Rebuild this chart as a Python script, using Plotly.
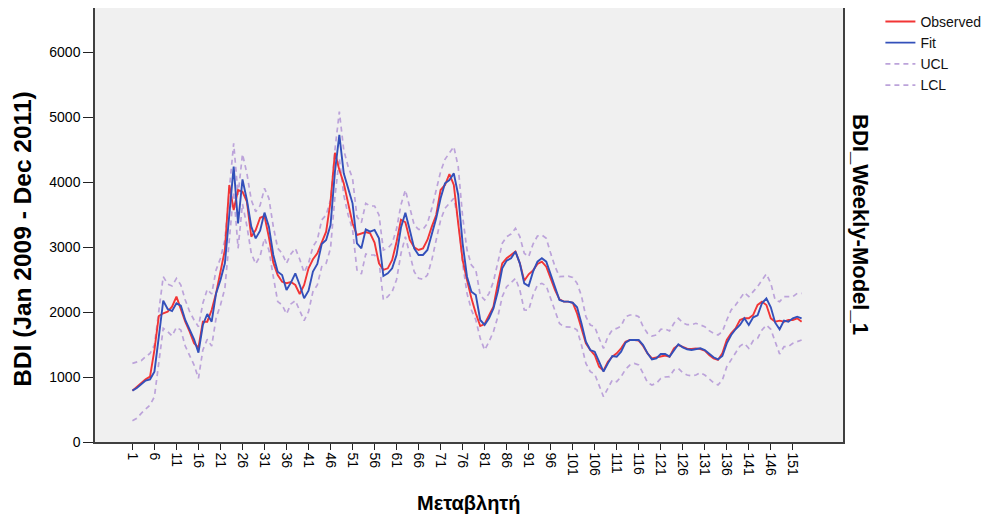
import plotly.graph_objects as go

weeks = list(range(1, 154))
tick_weeks = list(range(1, 152, 5))
y_ticks = [0, 1000, 2000, 3000, 4000, 5000, 6000]

observed = [
    790, 851, 903, 964, 1005, 1416, 1939, 1980, 2005, 2082,
    2236, 2031, 1851, 1698, 1518, 1450, 1851, 1851, 2031, 2287,
    2595, 2954, 3954, 3569, 3877, 3851, 3697, 3159, 3262, 3450,
    3477, 3150, 2759, 2570, 2467, 2442, 2462, 2416, 2277, 2416,
    2672, 2811, 2903, 3067, 3236, 3700, 4450, 4185, 3980, 3672,
    3365, 3185, 3211, 3231, 3211, 3067, 2749, 2647, 2672, 2800,
    3080, 3420, 3380, 3108, 2995, 2954, 2979, 3108, 3313, 3492,
    3877, 3954, 4123, 3954, 3364, 2800, 2492, 2210, 1979, 1784,
    1815, 1954, 2082, 2441, 2749, 2826, 2877, 2930, 2749, 2480,
    2580, 2640, 2740, 2774, 2697, 2518, 2338, 2195, 2159, 2159,
    2143, 1979, 1748, 1518, 1415, 1338, 1159, 1097, 1236, 1312,
    1364, 1441, 1543, 1569, 1569, 1559, 1477, 1364, 1287, 1302,
    1323, 1330, 1313, 1441, 1492, 1467, 1436, 1431, 1441, 1431,
    1405, 1339, 1287, 1262, 1364, 1569, 1672, 1749, 1877, 1903,
    1903, 1954, 2108, 2159, 2108, 1903, 1851, 1867, 1851, 1877,
    1877, 1903, 1851,
]

fit = [
    790, 831, 887, 944, 964, 1082, 1621, 2174, 2046, 2015,
    2134, 2098, 1877, 1723, 1580, 1375, 1800, 1969, 1851, 2287,
    2492, 2749, 3544, 4236, 3364, 4041, 3723, 3313, 3133, 3250,
    3529, 3313, 2877, 2621, 2570, 2339, 2452, 2595, 2416, 2211,
    2329, 2621, 2739, 3047, 3108, 3339, 4159, 4724, 4134, 3903,
    3672, 3057, 2980, 3272, 3236, 3262, 3134, 2554, 2595, 2672,
    2880, 3300, 3528, 3261, 2979, 2877, 2877, 2954, 3184, 3441,
    3749, 3980, 4031, 4133, 3800, 3056, 2543, 2313, 2261, 1877,
    1800, 1903, 2056, 2313, 2672, 2790, 2826, 2930, 2749, 2441,
    2400, 2620, 2774, 2826, 2774, 2569, 2364, 2185, 2159, 2159,
    2143, 2072, 1825, 1543, 1415, 1389, 1236, 1082, 1210, 1323,
    1312, 1389, 1528, 1569, 1569, 1569, 1492, 1364, 1272, 1287,
    1354, 1354, 1313, 1415, 1503, 1457, 1426, 1415, 1426, 1441,
    1415, 1354, 1303, 1272, 1323, 1518, 1646, 1734, 1800, 1903,
    1800, 1918, 1949, 2134, 2210, 2072, 1836, 1734, 1867, 1851,
    1903, 1928, 1903,
]

ucl = [
    1210, 1236, 1251, 1313, 1364, 1492, 2031, 2544, 2431, 2400,
    2518, 2415, 2185, 2005, 1877, 1774, 2134, 2349, 2277, 2646,
    2826, 3108, 3877, 4595, 3800, 4431, 4133, 3723, 3544, 3640,
    3903, 3749, 3313, 2980, 2903, 2749, 2893, 2980, 2811, 2606,
    2749, 3006, 3108, 3416, 3493, 3724, 4493, 5082, 4493, 4236,
    4057, 3467, 3375, 3672, 3631, 3631, 3493, 2954, 2980, 3057,
    3280, 3650, 3877, 3621, 3338, 3272, 3272, 3364, 3595, 3877,
    4159, 4349, 4441, 4544, 4236, 3467, 2954, 2723, 2646, 2261,
    2185, 2287, 2467, 2749, 3056, 3159, 3200, 3287, 3159, 2903,
    2851, 3046, 3169, 3184, 3133, 2902, 2697, 2543, 2553, 2553,
    2533, 2441, 2246, 1928, 1800, 1774, 1595, 1441, 1620, 1723,
    1748, 1784, 1928, 1954, 1954, 1928, 1774, 1672, 1631, 1646,
    1733, 1739, 1708, 1826, 1903, 1836, 1805, 1805, 1826, 1805,
    1775, 1713, 1672, 1646, 1698, 1877, 2031, 2108, 2210, 2298,
    2236, 2313, 2390, 2492, 2585, 2441, 2185, 2159, 2236, 2236,
    2236, 2287, 2287,
]

lcl = [
    328, 364, 441, 503, 569, 697, 1262, 1749, 1698, 1631,
    1764, 1723, 1477, 1323, 1185, 980, 1416, 1580, 1477, 1903,
    2108, 2364, 3159, 3851, 2980, 3662, 3323, 2903, 2739, 2860,
    3134, 2954, 2544, 2160, 2108, 1970, 2124, 2175, 2021, 1867,
    2006, 2313, 2416, 2698, 2749, 2980, 3775, 4365, 3800, 3493,
    3272, 2647, 2585, 2893, 2877, 2877, 2790, 2185, 2237, 2313,
    2500, 2900, 3159, 2903, 2620, 2518, 2503, 2569, 2800, 3108,
    3415, 3595, 3672, 3749, 3415, 2749, 2287, 2031, 1877, 1595,
    1415, 1544, 1698, 1928, 2236, 2390, 2451, 2518, 2338, 2031,
    2030, 2261, 2415, 2441, 2400, 2210, 2030, 1825, 1774, 1774,
    1764, 1723, 1492, 1210, 1082, 1046, 877, 697, 825, 954,
    928, 1005, 1118, 1184, 1210, 1184, 1056, 913, 877, 902,
    979, 1000, 1005, 1108, 1133, 1067, 1031, 1016, 1031, 1067,
    1031, 964, 913, 877, 954, 1159, 1262, 1364, 1477, 1518,
    1441, 1559, 1595, 1723, 1800, 1734, 1528, 1354, 1467, 1467,
    1518, 1544, 1569,
]

FONT = "Arial, Liberation Sans, sans-serif"
RED = "#F23535"
BLUE = "#3350BA"
PURPLE = "#BCA3DA"

fig = go.Figure()
fig.add_trace(go.Scatter(x=weeks, y=ucl, mode="lines", name="UCL", legendrank=3,
                         line=dict(color=PURPLE, width=1.7, dash="5px,4px")))
fig.add_trace(go.Scatter(x=weeks, y=lcl, mode="lines", name="LCL", legendrank=4,
                         line=dict(color=PURPLE, width=1.7, dash="5px,4px")))
fig.add_trace(go.Scatter(x=weeks, y=observed, mode="lines", name="Observed", legendrank=1,
                         line=dict(color=RED, width=1.9)))
fig.add_trace(go.Scatter(x=weeks, y=fit, mode="lines", name="Fit", legendrank=2,
                         line=dict(color=BLUE, width=1.9)))

# The page body adds an 8px offset, so the figure is 8px smaller than the window.
fig.update_layout(
    width=982, height=509,
    margin=dict(l=87, r=147, t=0, b=75, autoexpand=False),
    paper_bgcolor="white",
    plot_bgcolor="#F0F0F0",
    font=dict(family=FONT, color="black", size=14),
    showlegend=True,
    legend=dict(x=1.05, y=1.005, xanchor="left", yanchor="top",
                font=dict(size=14, color="#111111"), bgcolor="rgba(0,0,0,0)",
                tracegroupgap=0, itemwidth=30),
    xaxis=dict(
        range=[-7.5, 162.4], tickmode="array", tickvals=tick_weeks,
        ticktext=[str(v) for v in tick_weeks], tickangle=90,
        ticks="outside", ticklen=6, tickcolor="#222222", tickwidth=1.2,
        showgrid=False, zeroline=False, showline=True, linecolor="#404040",
        linewidth=1.5, mirror=True, tickfont=dict(size=14), automargin=False,
    ),
    yaxis=dict(
        range=[0, 6677], tickmode="array", tickvals=y_ticks,
        ticks="outside", ticklen=10, tickcolor="#222222", tickwidth=1.2,
        showgrid=False, zeroline=False, showline=True, linecolor="#404040",
        linewidth=1.5, mirror=True, tickfont=dict(size=14), automargin=False,
    ),
    annotations=[
        dict(text="<b>BDI (Jan 2009 - Dec 2011)</b>", xref="paper", yref="paper",
             x=-0.0963, y=0.468, xanchor="center", yanchor="middle", textangle=-90,
             showarrow=False, font=dict(size=24.5, family=FONT)),
        dict(text="<b>BDI_Weekly-Model_1</b>", xref="paper", yref="paper",
             x=1.024, y=0.5, xanchor="center", yanchor="middle", textangle=90,
             showarrow=False, font=dict(size=22, family=FONT)),
        dict(text="<b>Μεταβλητή</b>", xref="paper", yref="paper",
             x=0.5, y=-0.1406, xanchor="center", yanchor="middle",
             showarrow=False, font=dict(size=20, family=FONT)),
    ],
)

fig.write_html("out.html")
